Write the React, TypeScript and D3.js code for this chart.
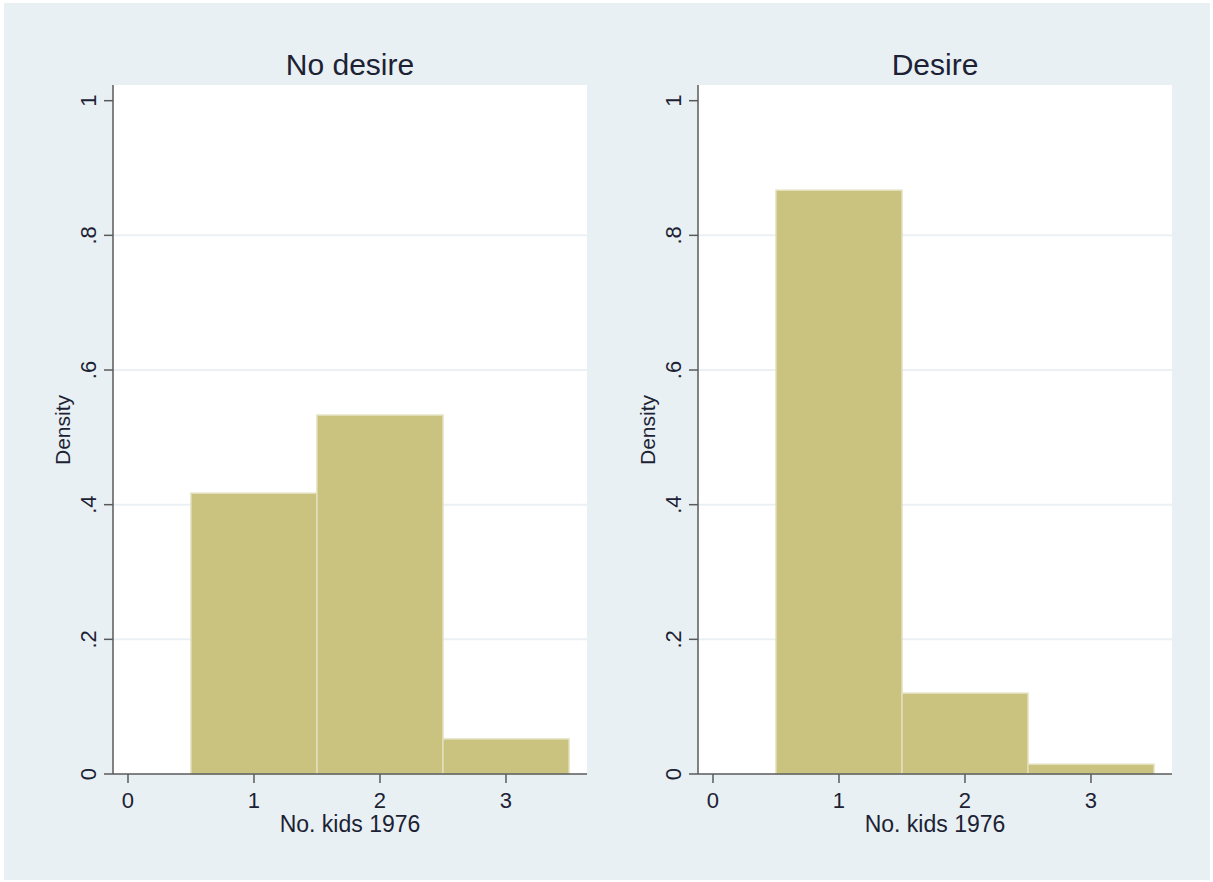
import React from "react";
import * as d3 from "d3";

const categories = [1, 2, 3];
const noDesireDensity = [0.417, 0.533, 0.052];
const desireDensity = [0.867, 0.12, 0.0145];
const panelTitles = ["No desire", "Desire"];
const xTicks = [0, 1, 2, 3];
const yTicks = [0, 0.2, 0.4, 0.6, 0.8, 1];
const yTickLabels = ["0", ".2", ".4", ".6", ".8", "1"];
const xTitle = "No. kids 1976";
const yTitle = "Density";

const W = 1213;
const H = 882;
const FONT = "'Liberation Sans', Arial, Helvetica, sans-serif";
const TEXT = "#1c2233";

function Panel({ left, title, values }: { left: number; title: string; values: number[] }) {
  const plotL = left;
  const plotR = left + 474;
  const plotT = 85;
  const plotB = 774;
  const x = d3.scaleLinear().domain([-0.119, 3.643]).range([plotL, plotR]);
  const y = d3.scaleLinear().domain([0, 1.0233]).range([plotB, plotT]);
  const cx = (plotL + plotR) / 2;
  return (
    <g>
      <rect x={plotL} y={plotT} width={plotR - plotL} height={plotB - plotT} fill="#ffffff" />
      {yTicks.filter((t) => t > 0 && t < 1).map((t) => (
        <line key={"g" + t} x1={plotL} x2={plotR} y1={y(t)} y2={y(t)} stroke="#eaf0f3" strokeWidth={2} />
      ))}
      {categories.map((c, i) => (
        <rect
          key={"b" + c}
          x={x(c - 0.5)}
          y={y(values[i])}
          width={x(c + 0.5) - x(c - 0.5)}
          height={y(0) - y(values[i])}
          fill="#cac380"
          stroke="#e2dfbc"
          strokeWidth={1.5}
        />
      ))}
      <line x1={plotL} x2={plotL} y1={plotT} y2={plotB} stroke="#5a5a5a" strokeWidth={1.5} />
      <line x1={plotL} x2={plotR} y1={plotB} y2={plotB} stroke="#5a5a5a" strokeWidth={1.5} />
      {yTicks.map((t, i) => (
        <g key={"yt" + t}>
          <line x1={plotL - 9} x2={plotL} y1={y(t)} y2={y(t)} stroke="#5a5a5a" strokeWidth={1.5} />
          <text
            transform={`translate(${plotL - 17},${y(t)}) rotate(-90)`}
            textAnchor="middle"
            fontFamily={FONT}
            fontSize={22}
            fill={TEXT}
          >
            {yTickLabels[i]}
          </text>
        </g>
      ))}
      {xTicks.map((t) => (
        <g key={"xt" + t}>
          <line x1={x(t)} x2={x(t)} y1={plotB} y2={plotB + 9} stroke="#5a5a5a" strokeWidth={1.5} />
          <text x={x(t)} y={808} textAnchor="middle" fontFamily={FONT} fontSize={22} fill={TEXT}>
            {t}
          </text>
        </g>
      ))}
      <text x={cx} y={832} textAnchor="middle" fontFamily={FONT} fontSize={23} fill={TEXT}>
        {xTitle}
      </text>
      <text
        transform={`translate(${plotL - 43},${430}) rotate(-90)`}
        textAnchor="middle"
        fontFamily={FONT}
        fontSize={21}
        fill={TEXT}
      >
        {yTitle}
      </text>
      <text x={cx} y={75} textAnchor="middle" fontFamily={FONT} fontSize={30} fill={TEXT}>
        {title}
      </text>
    </g>
  );
}

export default function App() {
  return (
    <svg
      width={W}
      height={H}
      style={{ position: "absolute", left: 0, top: 0, display: "block" }}
    >
      <rect x={0} y={0} width={W} height={H} fill="#ffffff" />
      <rect x={4} y={3} width={1206} height={877} fill="#e8f0f3" />
      <Panel left={113} title={panelTitles[0]} values={noDesireDensity} />
      <Panel left={698} title={panelTitles[1]} values={desireDensity} />
    </svg>
  );
}
